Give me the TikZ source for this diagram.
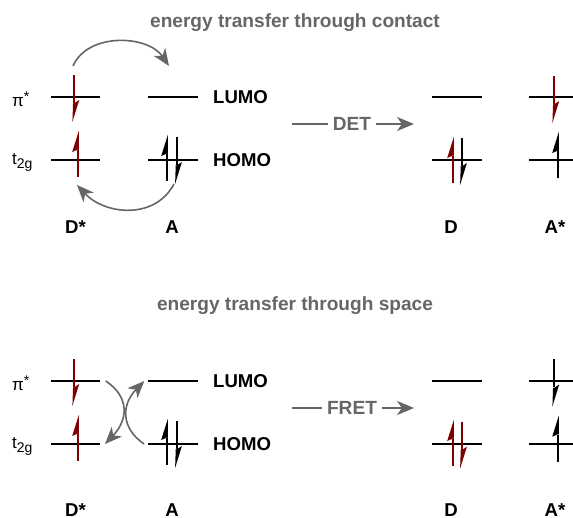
\documentclass[tikz,border=0pt]{standalone}
\usepackage{fontspec}
\setmainfont{Liberation Sans}
\usepackage{tikz}
\usetikzlibrary{arrows.meta}

\definecolor{darkred}{HTML}{7F0000}
\definecolor{arrowgray}{HTML}{666666}

\tikzset{
    level/.style={draw=black, line width=1.9pt},
    heading/.style={text=arrowgray, font=\fontsize{19.1}{21}\selectfont\bfseries},
    tag/.style={font=\fontsize{18.6}{20}\selectfont\bfseries, inner sep=0pt},
    orbital/.style={font=\fontsize{17}{20}\selectfont, anchor=base west, inner sep=0pt},
    process/.style={draw=arrowgray, line width=1.6pt},
    transfer/.style={draw=arrowgray, line width=1.6pt, -{Stealth[length=17pt, width=14pt, inset=5pt]}},
}

% half headed electron arrows, x position and tail height
\newcommand{\spinup}[3]{
    \draw[#3, line width=1.9pt] (#1,#2) -- (#1,#2-27);
    \fill[#3] (#1+0.8,#2-46) -- (#1-5.8,#2-25) -- (#1,#2-27.5) -- (#1+0.95,#2-27) -- cycle;
}
\newcommand{\spindown}[3]{
    \draw[#3, line width=1.9pt] (#1,#2) -- (#1,#2+28);
    \fill[#3] (#1-1.6,#2+47) -- (#1+5.2,#2+25) -- (#1,#2+28.5) -- (#1-0.95,#2+28) -- cycle;
}
\newcommand{\smallpart}[2]{\raisebox{#1}{\fontsize{14}{16}\selectfont #2}}

\begin{document}
\begin{tikzpicture}[x=1pt, y=-1pt]
    \useasboundingbox (0,0) rectangle (573,518);

    % Headings
    \node[heading] (contact) at (295,23) {energy transfer through contact};
    \node[heading] (space) at (295,306) {energy transfer through space};

    % Orbital levels of both panels
    \foreach \y in {97,160,381,444} {
        \draw[level] (51,\y) -- (100,\y);
        \draw[level] (148,\y) -- (198,\y);
        \draw[level] (432,\y) -- (482,\y);
        \draw[level] (529,\y) -- (573,\y);
    }

    % Labels
    \foreach \y/\n in {97/a,381/b} {
        \node[orbital] (pi\n) at (12,\y+10) {π\smallpart{5pt}{*}};
        \node[tag, anchor=west] (lumo\n) at (213,\y) {LUMO};
    }
    \foreach \y/\n in {160/a,444/b} {
        \node[orbital] (tg\n) at (12,\y+5) {t\smallpart{-4pt}{2g}};
        \node[tag, anchor=west] (homo\n) at (213,\y) {HOMO};
    }
    \foreach \y/\n in {227.5/a,510/b} {
        \node[tag] (dstar\n) at (75.5,\y) {D*};
        \node[tag] (acc\n) at (172,\y) {A};
        \node[tag] (don\n) at (451,\y) {D};
        \node[tag] (astar\n) at (555,\y) {A*};
    }

    % Electrons, contact panel
    \spindown{74}{75}{darkred}
    \spinup{78}{177}{darkred}
    \spinup{167}{181}{black}
    \spindown{176.7}{137}{black}
    \spinup{453}{183}{darkred}
    \spindown{461.7}{138}{black}
    \spindown{554}{76}{darkred}
    \spinup{558}{178}{black}

    % Electrons, space panel
    \spindown{74}{359}{darkred}
    \spinup{78}{461}{darkred}
    \spinup{167}{465}{black}
    \spindown{176.7}{421}{black}
    \spinup{453}{466}{darkred}
    \spindown{461.7}{421.7}{darkred}
    \spindown{554}{359.5}{black}
    \spinup{558}{461.7}{black}

    % Curved transfer arrows
    \coordinate (c1) at (73,66);
    \coordinate (c2) at (169,66);
    \coordinate (c3) at (174,184);
    \coordinate (c4) at (77,185);
    \draw[transfer] (c1) .. controls (88,32) and (148,35) .. (c2);
    \draw[transfer] (c3) .. controls (155,220) and (105,215) .. (c4);

    \coordinate (s1) at (105.7,381);
    \coordinate (s2) at (105,444);
    \coordinate (s3) at (144,444);
    \coordinate (s4) at (144.3,381);
    \draw[transfer] (s1) .. controls (130,397) and (128,420) .. (s2);
    \draw[transfer] (s3) .. controls (121,428) and (121,405) .. (s4);

    % Process arrows
    \foreach \y/\t in {124/DET,408/FRET} {
        \node[heading, inner sep=4.5pt] (\t) at (352,\y) {\t};
        \coordinate (\t start) at (292,\y);
        \coordinate (\t end) at (414,\y);
        \draw[process] (\t start) -- (\t.west);
        \draw[transfer] (\t.east) -- (\t end);
    }
\end{tikzpicture}
\end{document}
